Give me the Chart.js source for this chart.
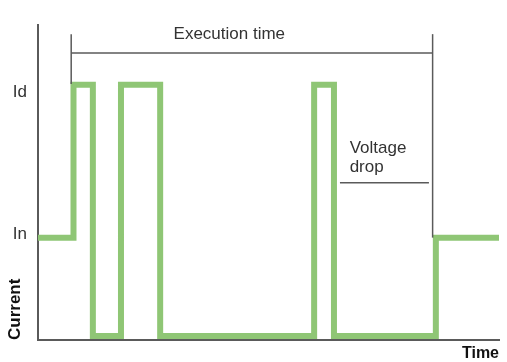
<!DOCTYPE html>
<html>
<head>
<meta charset="utf-8">
<script src="https://cdn.jsdelivr.net/npm/chart.js@4"></script>
<style>
  html, body { margin: 0; padding: 0; background: #fff; }
  #wrap { width: 507px; height: 362px; }
</style>
</head>
<body>
<div id="wrap"><canvas id="currentChart" width="507" height="362"></canvas></div>
<script>
// Current waveform (time 0..100, current level 0..100)
const stepTimes   = [0, 7.7, 7.7, 11.9, 11.9, 18.0, 18.0, 26.5, 26.5, 59.9, 59.9, 64.2, 64.2, 86.3, 86.3, 100];
const stepLevels  = [32.5, 32.5, 81, 81, 1.3, 1.3, 81, 81, 1.3, 1.3, 81, 81, 1.3, 1.3, 32.5, 32.5];

// Y axis tick labels
const tickValues = [33.5, 78.7];
const tickLabels = ['In', 'Id'];

// Annotation lines
const execLeft  = { x: [7.2, 7.2],   y: [81.3, 97.1] };
const execRight = { x: [85.6, 85.6], y: [32.5, 97.1] };
const execBar   = { x: [7.2, 85.6],  y: [91.1, 91.1] };
const dropLine  = { x: [65.5, 84.8], y: [49.9, 49.9] };

// Annotation texts
const noteTexts = ['Execution time', 'Voltage', 'drop'];
const noteX     = [41.5, 67.6, 67.6];
const noteY     = [95.7, 59.4, 53.4];
const noteAlign = ['center', 'left', 'left'];

const GREEN = '#8fc675';
const GREY = '#5a5a5a';
const TEXT = '#333333';

function toPoints(xs, ys) {
    return xs.map((x, i) => ({ x: x, y: ys[i] }));
}

function lineSet(seg, color, width) {
    return {
        data: toPoints(seg.x, seg.y),
        borderColor: color,
        borderWidth: width,
        pointRadius: 0,
        fill: false,
        tension: 0,
        borderCapStyle: 'butt'
    };
}

const notesPlugin = {
    id: 'notes',
    afterDatasetsDraw(chart) {
        const ctx = chart.ctx;
        const xs = chart.scales.x, ys = chart.scales.y;
        ctx.save();
        ctx.fillStyle = TEXT;
        ctx.font = '17px "Liberation Sans", Arial, sans-serif';
        ctx.textBaseline = 'alphabetic';
        noteTexts.forEach((t, i) => {
            ctx.textAlign = noteAlign[i];
            ctx.fillText(t, xs.getPixelForValue(noteX[i]), ys.getPixelForValue(noteY[i]));
        });
        ctx.restore();
    }
};

const waveSet = lineSet({ x: stepTimes, y: stepLevels }, GREEN, 6);
waveSet.borderJoinStyle = 'miter';

new Chart(document.getElementById('currentChart'), {
    type: 'line',
    data: {
        datasets: [
            lineSet(execLeft, GREY, 1.5),
            lineSet(execRight, GREY, 1.5),
            lineSet(execBar, GREY, 1.5),
            lineSet(dropLine, GREY, 1.5),
            waveSet
        ]
    },
    options: {
        responsive: false,
        animation: false,
        events: [],
        layout: { padding: { top: 25, right: 8, left: 0, bottom: 0 } },
        plugins: { legend: { display: false }, tooltip: { enabled: false } },
        scales: {
            x: {
                type: 'linear',
                min: 0,
                max: 100,
                grid: { drawOnChartArea: false, drawTicks: false },
                border: { display: true, color: GREY, width: 2 },
                ticks: { display: false },
                title: {
                    display: true,
                    text: 'Time',
                    align: 'end',
                    color: '#111',
                    font: { family: '"Liberation Sans", Arial, sans-serif', size: 16, weight: 'bold', lineHeight: 1 },
                    padding: 0
                },
                afterFit(scale) { scale.height = 22; }
            },
            y: {
                type: 'linear',
                min: 0,
                max: 100,
                grid: { drawOnChartArea: false, drawTicks: false, tickLength: 0 },
                border: { display: true, color: GREY, width: 2 },
                afterBuildTicks(scale) {
                    scale.ticks = tickValues.map(v => ({ value: v }));
                },
                ticks: {
                    color: TEXT,
                    padding: 11,
                    font: { family: '"Liberation Sans", Arial, sans-serif', size: 17 },
                    callback: (value, index) => tickLabels[index]
                },
                title: {
                    display: true,
                    text: 'Current',
                    align: 'start',
                    color: '#111',
                    font: { family: '"Liberation Sans", Arial, sans-serif', size: 17, weight: 'bold', lineHeight: 1.2 },
                    padding: { top: 5, bottom: 0 }
                },
                afterFit(scale) { scale.width = 38; }
            }
        }
    },
    plugins: [notesPlugin]
});
</script>
</body>
</html>
